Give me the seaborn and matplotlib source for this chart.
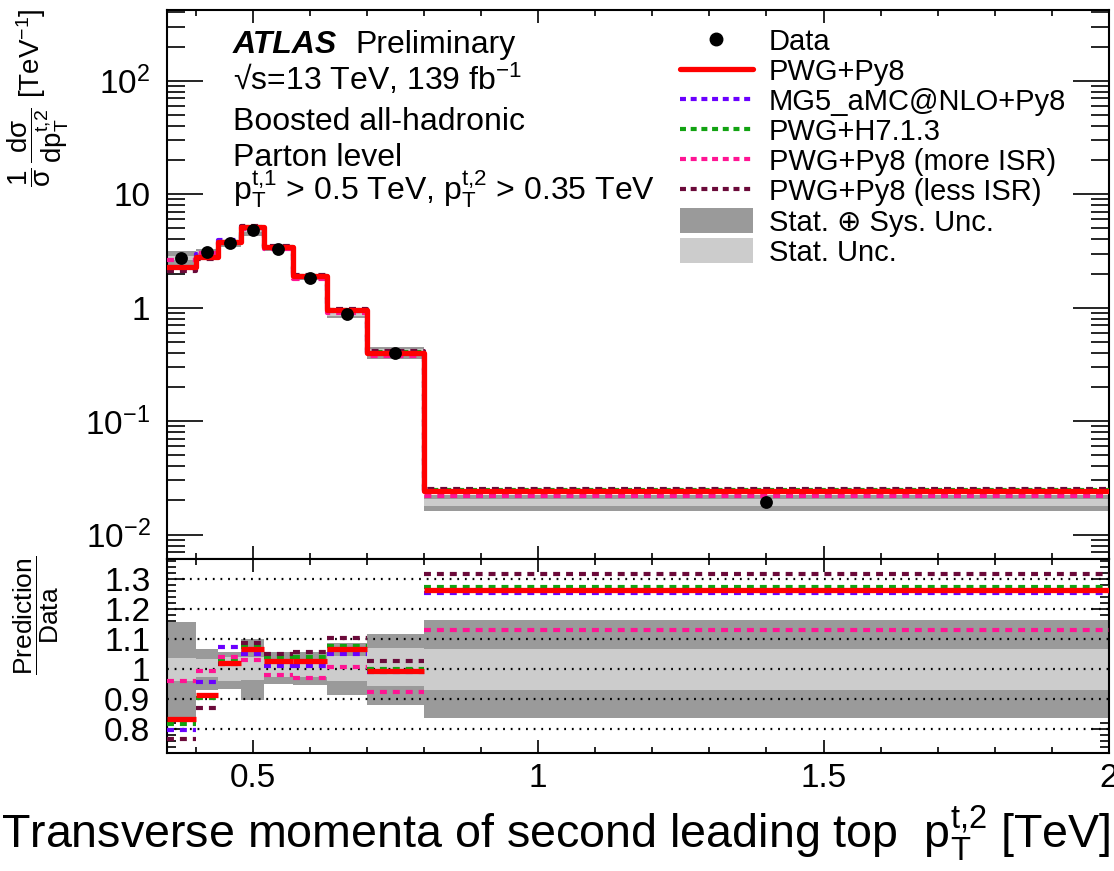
import numpy as np
import pandas as pd
import matplotlib
matplotlib.use("Agg")
import matplotlib.pyplot as plt
import seaborn as sns
from matplotlib.lines import Line2D
from matplotlib.patches import Patch
from matplotlib.ticker import FixedLocator, FixedFormatter, MultipleLocator, NullFormatter

# ---------------- data ----------------
bin_edges = [0.35, 0.40, 0.44, 0.48, 0.52, 0.57, 0.63, 0.70, 0.80, 2.00]
data_values = [2.75, 3.08, 3.68, 4.81, 3.32, 1.84, 0.886, 0.402, 0.0193]

ratio_pwg_py8 = [0.835, 0.913, 1.022, 1.067, 1.027, 1.027, 1.069, 0.995, 1.266]
ratio_mg5 = [0.796, 0.958, 1.074, 1.052, 1.010, 1.012, 1.051, 0.990, 1.253]
ratio_h7 = [0.818, 0.905, 1.027, 1.074, 1.039, 1.039, 1.078, 1.002, 1.276]
ratio_more_isr = [0.960, 0.993, 1.040, 1.032, 0.982, 0.971, 1.008, 0.924, 1.131]
ratio_less_isr = [0.766, 0.871, 1.016, 1.086, 1.052, 1.056, 1.104, 1.028, 1.319]

tot_lo = [0.840, 0.932, 0.935, 0.897, 0.952, 0.946, 0.914, 0.880, 0.837]
tot_hi = [1.158, 1.069, 1.058, 1.102, 1.056, 1.058, 1.088, 1.119, 1.164]
stat_lo = [0.962, 0.975, 0.962, 0.965, 0.975, 0.975, 0.960, 0.944, 0.930]
stat_hi = [1.038, 1.035, 1.040, 1.040, 1.030, 1.030, 1.045, 1.070, 1.069]

labels = ["PWG+Py8", "MG5_aMC@NLO+Py8", "PWG+H7.1.3", "PWG+Py8 (more ISR)", "PWG+Py8 (less ISR)"]
colors = ["#ff0000", "#6a00ff", "#12a312", "#ff1493", "#6b0a3a"]
ratio_tick_values = [0.8, 0.9, 1.0, 1.1, 1.2, 1.3]
ratio_tick_labels = ["0.8", "0.9", "1", "1.1", "1.2", "1.3"]
top_tick_values = [1e-2, 1e-1, 1, 10, 1e2]
top_tick_labels = [r"$10^{-2}$", r"$10^{-1}$", "1", "10", r"$10^{2}$"]
x_tick_values = [0.5, 1.0, 1.5, 2.0]
x_tick_labels = ["0.5", "1", "1.5", "2"]

# ---------------- style ----------------
sns.set_theme(style="ticks")
plt.rcParams["font.family"] = ["Liberation Sans", "DejaVu Sans"]
plt.rcParams["mathtext.fontset"] = "custom"
plt.rcParams["mathtext.rm"] = "Liberation Sans"
plt.rcParams["mathtext.it"] = "Liberation Sans:italic"
plt.rcParams["mathtext.bf"] = "Liberation Sans:bold"
plt.rcParams["mathtext.sf"] = "Liberation Sans"
plt.rcParams["mathtext.default"] = "regular"
plt.rcParams["lines.scale_dashes"] = False
plt.rcParams["axes.linewidth"] = 1.5
for key in ["text.color", "axes.labelcolor", "xtick.color", "ytick.color", "axes.edgecolor"]:
    plt.rcParams[key] = "black"

edges = np.array(bin_edges)
centers = 0.5 * (edges[:-1] + edges[1:])
data = np.array(data_values)
ratios = [np.array(r) for r in (ratio_pwg_py8, ratio_mg5, ratio_h7, ratio_more_isr, ratio_less_isr)]

W, H = 1114, 871
fig = plt.figure(figsize=(W / 100, H / 100), dpi=100)
left, right = 167 / W, 1109 / W
top_y0, top_y1 = 1 - 559 / H, 1 - 10 / H
rat_y0, rat_y1 = 1 - 753 / H, 1 - 559 / H
ax = fig.add_axes([left, top_y0, right - left, top_y1 - top_y0])
axr = fig.add_axes([left, rat_y0, right - left, rat_y1 - rat_y0], sharex=ax)

dark = "#9a9a9a"
light = "#cccccc"
dash = (0, (5.0, 4.3))

# ---------------- top panel ----------------
ax.stairs(data * np.array(tot_hi), edges, baseline=data * np.array(tot_lo), fill=True, color=dark, zorder=1)
ax.stairs(data * np.array(stat_hi), edges, baseline=data * np.array(stat_lo), fill=True, color=light, zorder=1.5)

order = [1, 2, 3, 4, 0]
for k in order:
    pred = data * ratios[k]
    df = pd.DataFrame({"x": edges, "y": np.append(pred, pred[-1])})
    sns.lineplot(data=df, x="x", y="y", ax=ax, estimator=None, sort=False,
                 drawstyle="steps-post", color=colors[k],
                 lw=3.8 if k == 0 else 3.0,
                 linestyle="-" if k == 0 else dash,
                 zorder=6 if k == 0 else 3 + k * 0.1, legend=False)

sns.scatterplot(x=centers, y=data, ax=ax, color="black", s=85, edgecolor="black",
                linewidth=0, zorder=10, legend=False)

ax.set_yscale("log")
ax.set_xlim(0.35, 2.0)
ax.set_ylim(0.0061, 420)
ax.set_xlabel("")
ax.set_ylabel("")
ax.yaxis.set_major_locator(FixedLocator(top_tick_values))
ax.yaxis.set_major_formatter(FixedFormatter(top_tick_labels))
minor_vals = [m * 10.0 ** e for e in range(-3, 3) for m in range(2, 10)]
ax.yaxis.set_minor_locator(FixedLocator(minor_vals))
ax.yaxis.set_minor_formatter(NullFormatter())
ax.tick_params(axis="y", which="major", direction="in", length=26, width=1.2,
               labelsize=24, pad=12, left=True, right=True)
ax.tick_params(axis="y", which="minor", direction="in", length=13, width=1.2, left=True, right=True)
ax.tick_params(axis="x", which="major", direction="in", length=9.5, width=1.2,
               top=True, bottom=True, labelbottom=False)
ax.tick_params(axis="x", which="minor", direction="in", length=4.5, width=1.2, top=True, bottom=True)
for s in ax.spines.values():
    s.set_linewidth(1.5)
    s.set_visible(True)

# annotations
tx = (233 - 167) / 942
ax.text(tx, 0.922, "ATLAS", transform=ax.transAxes, fontsize=23,
        fontweight="bold", fontstyle="italic", va="baseline", ha="left")
ax.text((355 - 167) / 942, 0.922, "Preliminary", transform=ax.transAxes, fontsize=23,
        va="baseline", ha="left")
ax.text(tx, 0.855, "\u221as=13 TeV, 139 fb$^{-1}$", transform=ax.transAxes,
        fontsize=23, va="baseline", ha="left")
ax.text(tx, 0.781, "Boosted all-hadronic", transform=ax.transAxes,
        fontsize=23, va="baseline", ha="left")
ax.text(tx, 0.716, "Parton level", transform=ax.transAxes,
        fontsize=23, va="baseline", ha="left")
ax.text(tx, 0.655,
        r"$\mathrm{p}_{\mathrm{T}}^{\mathrm{t{,}1}}$ > 0.5 TeV, $\mathrm{p}_{\mathrm{T}}^{\mathrm{t{,}2}}$ > 0.35 TeV",
        transform=ax.transAxes, fontsize=23, va="baseline", ha="left")

# legend
handles = [Line2D([], [], marker="o", color="black", linestyle="none", markersize=9)]
handles.append(Line2D([], [], color=colors[0], lw=3.8))
for k in range(1, 5):
    handles.append(Line2D([], [], color=colors[k], lw=3.0, linestyle=(0, (4.3, 3.4))))
handles.append(Patch(facecolor=dark, edgecolor="none"))
handles.append(Patch(facecolor=light, edgecolor="none"))
leg_labels = ["Data"] + labels + ["Stat. \u2295 Sys. Unc.", "Stat. Unc."]
ax.legend(handles, leg_labels, loc="upper left", bbox_to_anchor=((680 - 167) / 942, 0.968),
          frameon=False, fontsize=21, handlelength=2.5, handleheight=0.95,
          handletextpad=0.55, labelspacing=0.05, borderpad=0, borderaxespad=0)

# ---------------- ratio panel ----------------
axr.stairs(np.array(tot_hi), edges, baseline=np.array(tot_lo), fill=True, color=dark, zorder=1)
axr.stairs(np.array(stat_hi), edges, baseline=np.array(stat_lo), fill=True, color=light, zorder=1.5)
for v in ratio_tick_values:
    axr.axhline(v, color="black", lw=1.6, linestyle=(0, (1.3, 4.2)), zorder=2)
for k in order:
    axr.hlines(ratios[k], edges[:-1], edges[1:], color=colors[k],
               lw=3.8 if k == 0 else 3.0,
               linestyles="-" if k == 0 else [dash],
               zorder=6 if k == 0 else 3 + k * 0.1)

axr.set_ylim(0.72, 1.368)
axr.set_xlim(0.35, 2.0)
axr.yaxis.set_major_locator(FixedLocator(ratio_tick_values))
axr.yaxis.set_major_formatter(FixedFormatter(ratio_tick_labels))
axr.yaxis.set_minor_locator(MultipleLocator(0.02))
axr.xaxis.set_major_locator(FixedLocator(x_tick_values))
axr.xaxis.set_major_formatter(FixedFormatter(x_tick_labels))
axr.xaxis.set_minor_locator(MultipleLocator(0.1))
axr.tick_params(axis="y", which="major", direction="in", length=13, width=1.2,
                labelsize=24, pad=12, left=True, right=True)
axr.tick_params(axis="y", which="minor", direction="in", length=6.5, width=1.2, left=True, right=True)
axr.tick_params(axis="x", which="major", direction="in", length=9.5, width=1.2,
                labelsize=24, pad=7, top=True, bottom=True)
axr.tick_params(axis="x", which="minor", direction="in", length=4.5, width=1.2, top=True, bottom=True)
for s in axr.spines.values():
    s.set_linewidth(1.5)
    s.set_visible(True)
axr.set_xlabel("")
axr.set_ylabel("")

# axis titles
fig.text(38 / W, 1 - 8 / H,
         r"$\dfrac{1}{\sigma}\,\dfrac{d\sigma}{dp_{T}^{t{,}2}}$ [TeV$^{-1}$]",
         rotation=90, ha="center", va="top", fontsize=20)
fig.text(36 / W, 1 - 556 / H, r"$\dfrac{\mathrm{Prediction}}{\mathrm{Data}}$",
         rotation=90, ha="center", va="top", fontsize=19)
fig.text(1111 / W, 1 - 849 / H,
         r"Transverse momenta of second leading top  $\mathrm{p}_{\mathrm{T}}^{\mathrm{t{,}2}}$ [TeV]",
         ha="right", va="baseline", fontsize=33.6)

fig.savefig("out.png", dpi=100)
